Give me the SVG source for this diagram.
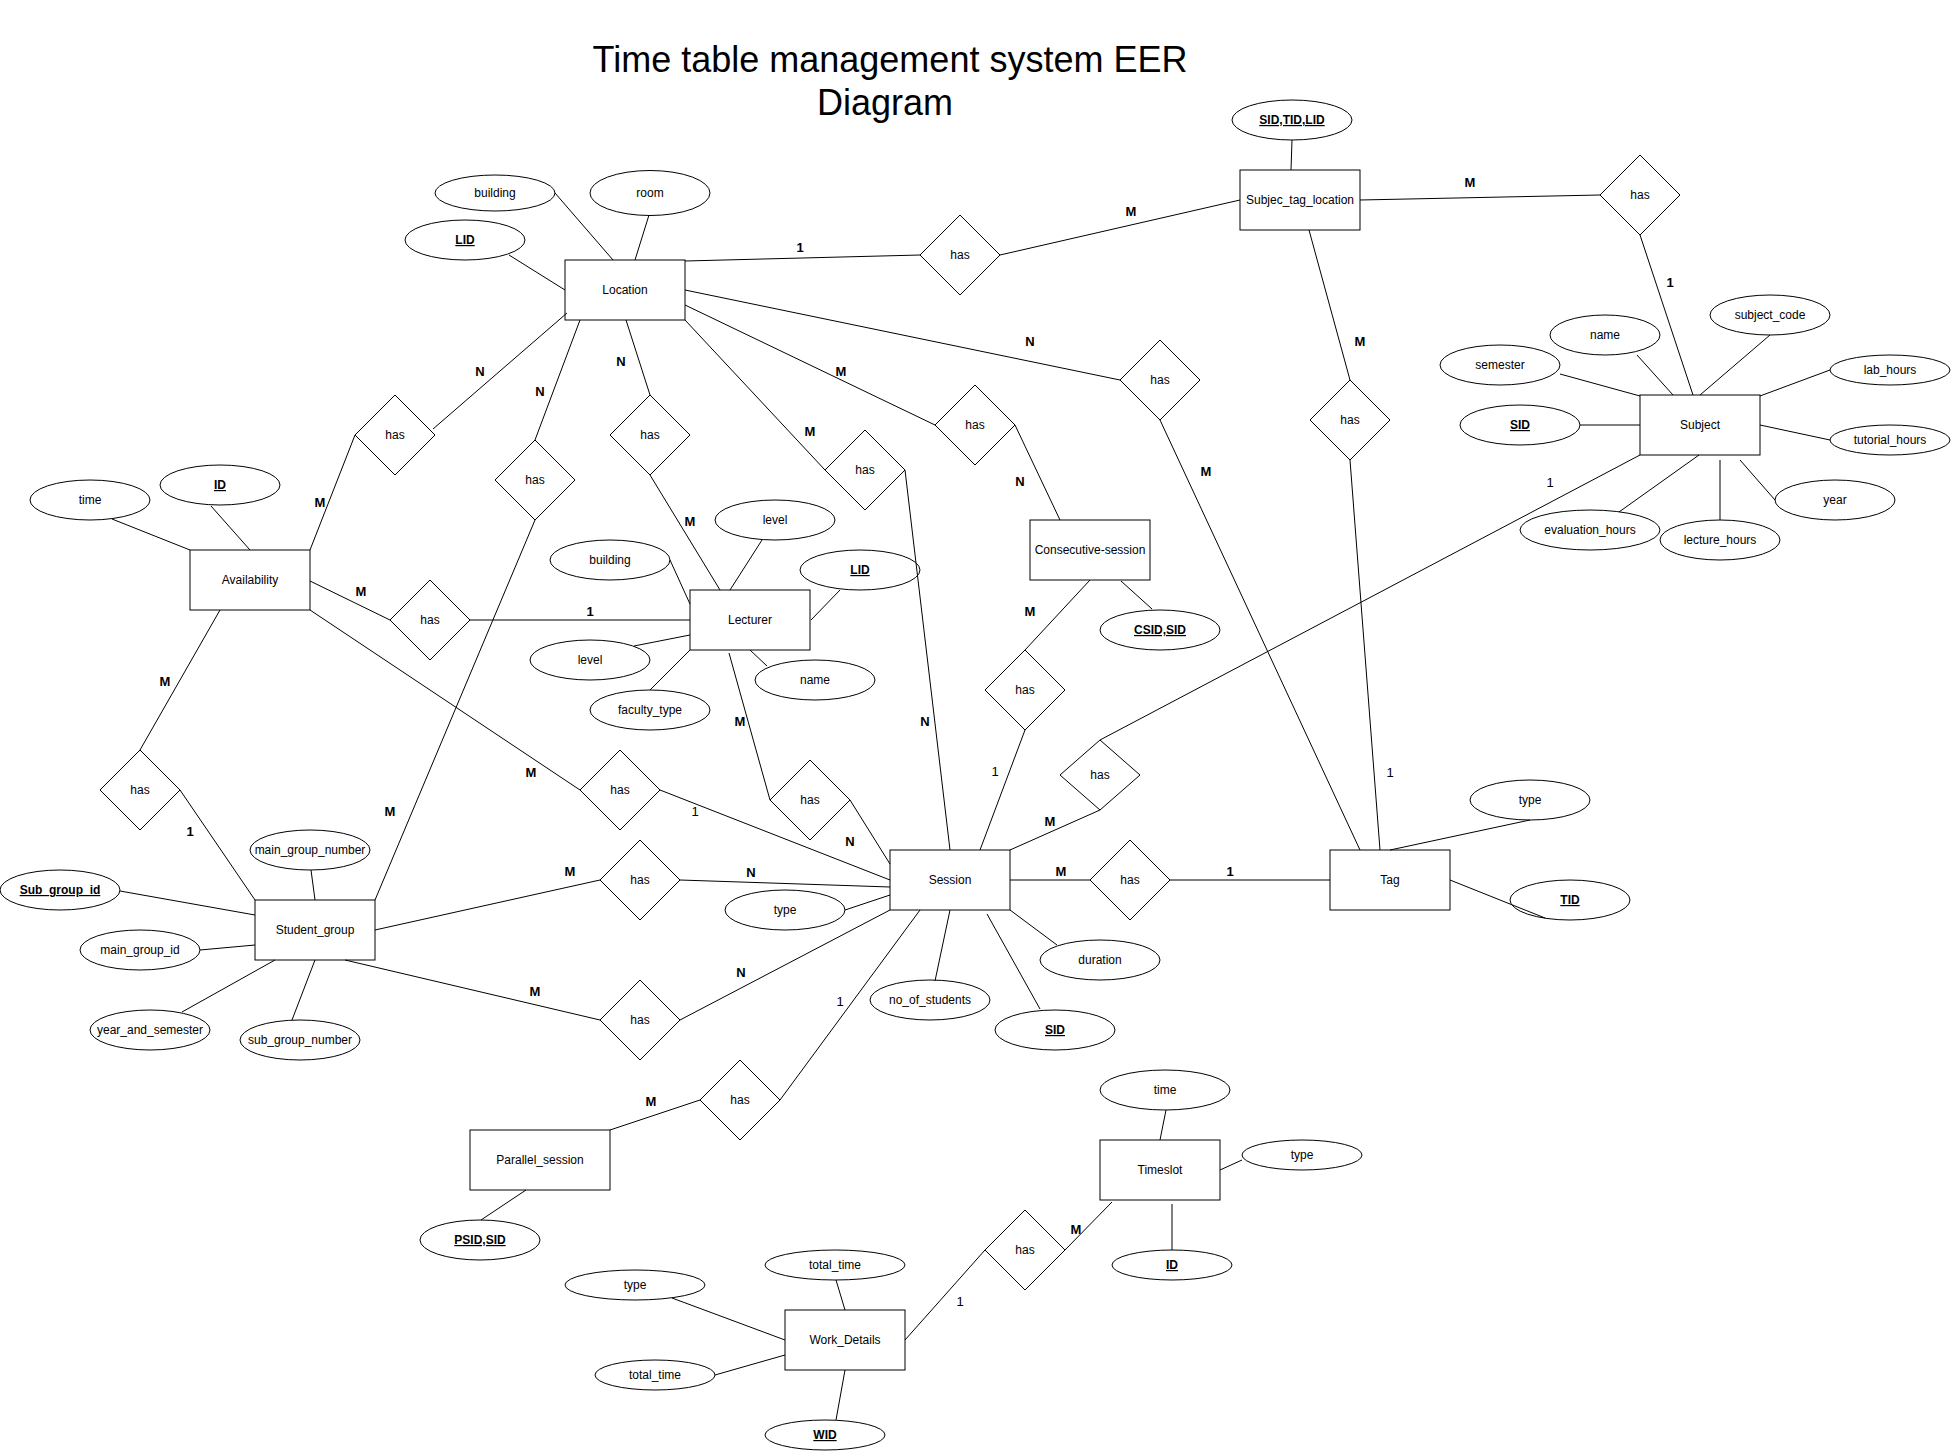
<svg xmlns="http://www.w3.org/2000/svg" width="1951" height="1451" viewBox="0 0 1951 1451">
<style>
.s{fill:#fff;stroke:#000;stroke-width:1}
text{font-family:"Liberation Sans",Arial,Helvetica,sans-serif;fill:#000}
.t{font-size:12px;text-anchor:middle}
.k{font-weight:bold;text-decoration:underline}
.c line{stroke:#000;stroke-width:1}
.l{font-size:13px;font-weight:bold;text-anchor:middle}
.r{font-weight:normal}
.title{font-size:36px;text-anchor:middle}
</style>
<rect width="1951" height="1451" fill="#fff"/>
<g id="title">
<text class="title" x="890" y="72">Time table management system EER</text>
<text class="title" x="885" y="115">Diagram</text>
</g>

<g id="entity-location"><rect class="s" x="565" y="260" width="120" height="60"/><text class="t" x="625" y="294">Location</text></g>
<g id="entity-subjec-tag-location"><rect class="s" x="1240" y="170" width="120" height="60"/><text class="t" x="1300" y="204">Subjec_tag_location</text></g>
<g id="entity-subject"><rect class="s" x="1640" y="395" width="120" height="60"/><text class="t" x="1700" y="429">Subject</text></g>
<g id="entity-availability"><rect class="s" x="190" y="550" width="120" height="60"/><text class="t" x="250" y="584">Availability</text></g>
<g id="entity-student-group"><rect class="s" x="255" y="900" width="120" height="60"/><text class="t" x="315" y="934">Student_group</text></g>
<g id="entity-lecturer"><rect class="s" x="690" y="590" width="120" height="60"/><text class="t" x="750" y="624">Lecturer</text></g>
<g id="entity-consecutive-session"><rect class="s" x="1030" y="520" width="120" height="60"/><text class="t" x="1090" y="554">Consecutive-session</text></g>
<g id="entity-session"><rect class="s" x="890" y="850" width="120" height="60"/><text class="t" x="950" y="884">Session</text></g>
<g id="entity-tag"><rect class="s" x="1330" y="850" width="120" height="60"/><text class="t" x="1390" y="884">Tag</text></g>
<g id="entity-parallel-session"><rect class="s" x="470" y="1130" width="140" height="60"/><text class="t" x="540" y="1164">Parallel_session</text></g>
<g id="entity-work-details"><rect class="s" x="785" y="1310" width="120" height="60"/><text class="t" x="845" y="1344">Work_Details</text></g>
<g id="entity-timeslot"><rect class="s" x="1100" y="1140" width="120" height="60"/><text class="t" x="1160" y="1174">Timeslot</text></g>

<g id="rel-location-stl"><polygon class="s" points="960,215 1000,255 960,295 920,255"/><text class="t" x="960" y="259">has</text></g>
<g id="rel-stl-subject"><polygon class="s" points="1640,155 1680,195 1640,235 1600,195"/><text class="t" x="1640" y="199">has</text></g>
<g id="rel-stl-tag"><polygon class="s" points="1350,380 1390,420 1350,460 1310,420"/><text class="t" x="1350" y="424">has</text></g>
<g id="rel-location-tag"><polygon class="s" points="1160,340 1200,380 1160,420 1120,380"/><text class="t" x="1160" y="384">has</text></g>
<g id="rel-location-consecutive"><polygon class="s" points="975,385 1015,425 975,465 935,425"/><text class="t" x="975" y="429">has</text></g>
<g id="rel-location-session"><polygon class="s" points="865,430 905,470 865,510 825,470"/><text class="t" x="865" y="474">has</text></g>
<g id="rel-location-lecturer"><polygon class="s" points="650,395 690,435 650,475 610,435"/><text class="t" x="650" y="439">has</text></g>
<g id="rel-location-student-group"><polygon class="s" points="535,440 575,480 535,520 495,480"/><text class="t" x="535" y="484">has</text></g>
<g id="rel-location-availability"><polygon class="s" points="395,395 435,435 395,475 355,435"/><text class="t" x="395" y="439">has</text></g>
<g id="rel-availability-lecturer"><polygon class="s" points="430,580 470,620 430,660 390,620"/><text class="t" x="430" y="624">has</text></g>
<g id="rel-availability-student-group"><polygon class="s" points="140,750 180,790 140,830 100,790"/><text class="t" x="140" y="794">has</text></g>
<g id="rel-availability-session"><polygon class="s" points="620,750 660,790 620,830 580,790"/><text class="t" x="620" y="794">has</text></g>
<g id="rel-student-group-session-1"><polygon class="s" points="640,840 680,880 640,920 600,880"/><text class="t" x="640" y="884">has</text></g>
<g id="rel-student-group-session-2"><polygon class="s" points="640,980 680,1020 640,1060 600,1020"/><text class="t" x="640" y="1024">has</text></g>
<g id="rel-session-parallel"><polygon class="s" points="740,1060 780,1100 740,1140 700,1100"/><text class="t" x="740" y="1104">has</text></g>
<g id="rel-work-timeslot"><polygon class="s" points="1025,1210 1065,1250 1025,1290 985,1250"/><text class="t" x="1025" y="1254">has</text></g>
<g id="rel-lecturer-session"><polygon class="s" points="810,760 850,800 810,840 770,800"/><text class="t" x="810" y="804">has</text></g>
<g id="rel-session-consecutive"><polygon class="s" points="1025,650 1065,690 1025,730 985,690"/><text class="t" x="1025" y="694">has</text></g>
<g id="rel-session-subject"><polygon class="s" points="1100,740 1140,775 1100,810 1060,775"/><text class="t" x="1100" y="779">has</text></g>
<g id="rel-session-tag"><polygon class="s" points="1130,840 1170,880 1130,920 1090,880"/><text class="t" x="1130" y="884">has</text></g>

<g id="attr-location-building"><ellipse class="s" cx="495" cy="193" rx="60" ry="18"/><text class="t" x="495" y="197">building</text></g>
<g id="attr-location-room"><ellipse class="s" cx="650" cy="193" rx="60" ry="22.5"/><text class="t" x="650" y="197">room</text></g>
<g id="attr-location-lid"><ellipse class="s" cx="465" cy="240" rx="60" ry="20"/><text class="t k" x="465" y="244">LID</text></g>
<g id="attr-stl-key"><ellipse class="s" cx="1292" cy="120" rx="60" ry="20"/><text class="t k" x="1292" y="124">SID,TID,LID</text></g>
<g id="attr-subject-code"><ellipse class="s" cx="1770" cy="315" rx="60" ry="20"/><text class="t" x="1770" y="319">subject_code</text></g>
<g id="attr-subject-name"><ellipse class="s" cx="1605" cy="335" rx="55" ry="20"/><text class="t" x="1605" y="339">name</text></g>
<g id="attr-subject-semester"><ellipse class="s" cx="1500" cy="365" rx="60" ry="20"/><text class="t" x="1500" y="369">semester</text></g>
<g id="attr-subject-lab-hours"><ellipse class="s" cx="1890" cy="370" rx="60" ry="15"/><text class="t" x="1890" y="374">lab_hours</text></g>
<g id="attr-subject-sid"><ellipse class="s" cx="1520" cy="425" rx="60" ry="20"/><text class="t k" x="1520" y="429">SID</text></g>
<g id="attr-subject-tutorial-hours"><ellipse class="s" cx="1890" cy="440" rx="60" ry="15"/><text class="t" x="1890" y="444">tutorial_hours</text></g>
<g id="attr-subject-year"><ellipse class="s" cx="1835" cy="500" rx="60" ry="20"/><text class="t" x="1835" y="504">year</text></g>
<g id="attr-subject-evaluation-hours"><ellipse class="s" cx="1590" cy="530" rx="70" ry="20"/><text class="t" x="1590" y="534">evaluation_hours</text></g>
<g id="attr-subject-lecture-hours"><ellipse class="s" cx="1720" cy="540" rx="60" ry="20"/><text class="t" x="1720" y="544">lecture_hours</text></g>
<g id="attr-availability-time"><ellipse class="s" cx="90" cy="500" rx="60" ry="20"/><text class="t" x="90" y="504">time</text></g>
<g id="attr-availability-id"><ellipse class="s" cx="220" cy="485" rx="60" ry="20"/><text class="t k" x="220" y="489">ID</text></g>
<g id="attr-sg-main-group-number"><ellipse class="s" cx="310" cy="850" rx="60" ry="20"/><text class="t" x="310" y="854">main_group_number</text></g>
<g id="attr-sg-sub-group-id"><ellipse class="s" cx="60" cy="890" rx="60" ry="20"/><text class="t k" x="60" y="894">Sub_group_id</text></g>
<g id="attr-sg-main-group-id"><ellipse class="s" cx="140" cy="950" rx="60" ry="20"/><text class="t" x="140" y="954">main_group_id</text></g>
<g id="attr-sg-year-and-semester"><ellipse class="s" cx="150" cy="1030" rx="60" ry="20"/><text class="t" x="150" y="1034">year_and_semester</text></g>
<g id="attr-sg-sub-group-number"><ellipse class="s" cx="300" cy="1040" rx="60" ry="20"/><text class="t" x="300" y="1044">sub_group_number</text></g>
<g id="attr-lecturer-level-1"><ellipse class="s" cx="775" cy="520" rx="60" ry="20"/><text class="t" x="775" y="524">level</text></g>
<g id="attr-lecturer-building"><ellipse class="s" cx="610" cy="560" rx="60" ry="20"/><text class="t" x="610" y="564">building</text></g>
<g id="attr-lecturer-lid"><ellipse class="s" cx="860" cy="570" rx="60" ry="20"/><text class="t k" x="860" y="574">LID</text></g>
<g id="attr-lecturer-level-2"><ellipse class="s" cx="590" cy="660" rx="60" ry="20"/><text class="t" x="590" y="664">level</text></g>
<g id="attr-lecturer-faculty-type"><ellipse class="s" cx="650" cy="710" rx="60" ry="20"/><text class="t" x="650" y="714">faculty_type</text></g>
<g id="attr-lecturer-name"><ellipse class="s" cx="815" cy="680" rx="60" ry="20"/><text class="t" x="815" y="684">name</text></g>
<g id="attr-consecutive-key"><ellipse class="s" cx="1160" cy="630" rx="60" ry="20"/><text class="t k" x="1160" y="634">CSID,SID</text></g>
<g id="attr-session-type"><ellipse class="s" cx="785" cy="910" rx="60" ry="20"/><text class="t" x="785" y="914">type</text></g>
<g id="attr-session-duration"><ellipse class="s" cx="1100" cy="960" rx="60" ry="20"/><text class="t" x="1100" y="964">duration</text></g>
<g id="attr-session-no-of-students"><ellipse class="s" cx="930" cy="1000" rx="60" ry="20"/><text class="t" x="930" y="1004">no_of_students</text></g>
<g id="attr-session-sid"><ellipse class="s" cx="1055" cy="1030" rx="60" ry="20"/><text class="t k" x="1055" y="1034">SID</text></g>
<g id="attr-parallel-key"><ellipse class="s" cx="480" cy="1240" rx="60" ry="20"/><text class="t k" x="480" y="1244">PSID,SID</text></g>
<g id="attr-tag-type"><ellipse class="s" cx="1530" cy="800" rx="60" ry="20"/><text class="t" x="1530" y="804">type</text></g>
<g id="attr-tag-tid"><ellipse class="s" cx="1570" cy="900" rx="60" ry="20"/><text class="t k" x="1570" y="904">TID</text></g>
<g id="attr-timeslot-time"><ellipse class="s" cx="1165" cy="1090" rx="65" ry="20"/><text class="t" x="1165" y="1094">time</text></g>
<g id="attr-timeslot-type"><ellipse class="s" cx="1302" cy="1155" rx="60" ry="15"/><text class="t" x="1302" y="1159">type</text></g>
<g id="attr-timeslot-id"><ellipse class="s" cx="1172" cy="1265" rx="60" ry="15"/><text class="t k" x="1172" y="1269">ID</text></g>
<g id="attr-work-total-time-1"><ellipse class="s" cx="835" cy="1265" rx="70" ry="15"/><text class="t" x="835" y="1269">total_time</text></g>
<g id="attr-work-type"><ellipse class="s" cx="635" cy="1285" rx="70" ry="15"/><text class="t" x="635" y="1289">type</text></g>
<g id="attr-work-total-time-2"><ellipse class="s" cx="655" cy="1375" rx="60" ry="15"/><text class="t" x="655" y="1379">total_time</text></g>
<g id="attr-work-wid"><ellipse class="s" cx="825" cy="1435" rx="60" ry="15"/><text class="t k" x="825" y="1439">WID</text></g>

<g id="connectors" class="c">
<line x1="555" y1="193" x2="613" y2="260"/>
<line x1="649" y1="215" x2="635" y2="260"/>
<line x1="509" y1="255" x2="565" y2="290"/>
<line x1="685" y1="261" x2="920" y2="255"/>
<line x1="1000" y1="255" x2="1240" y2="200"/>
<line x1="1292" y1="140" x2="1291" y2="170"/>
<line x1="1360" y1="200" x2="1600" y2="195"/>
<line x1="1640" y1="235" x2="1693" y2="395"/>
<line x1="1309" y1="230" x2="1350" y2="380"/>
<line x1="1350" y1="460" x2="1380" y2="850"/>
<line x1="685" y1="290" x2="1120" y2="380"/>
<line x1="1160" y1="420" x2="1360" y2="850"/>
<line x1="685" y1="305" x2="935" y2="425"/>
<line x1="1015" y1="425" x2="1060" y2="520"/>
<line x1="685" y1="320" x2="825" y2="470"/>
<line x1="905" y1="470" x2="950" y2="850"/>
<line x1="626" y1="320" x2="650" y2="395"/>
<line x1="650" y1="475" x2="720" y2="590"/>
<line x1="580" y1="320" x2="535" y2="440"/>
<line x1="535" y1="520" x2="375" y2="900"/>
<line x1="567" y1="313" x2="433" y2="429"/>
<line x1="355" y1="435" x2="310" y2="550"/>
<line x1="1700" y1="395" x2="1770" y2="335"/>
<line x1="1673" y1="395" x2="1637" y2="355"/>
<line x1="1640" y1="396" x2="1560" y2="374"/>
<line x1="1760" y1="396" x2="1830" y2="370"/>
<line x1="1640" y1="425" x2="1580" y2="425"/>
<line x1="1760" y1="425" x2="1830" y2="440"/>
<line x1="1699" y1="455" x2="1619" y2="512"/>
<line x1="1720" y1="460" x2="1720" y2="520"/>
<line x1="1740" y1="460" x2="1775" y2="500"/>
<line x1="1640" y1="455" x2="1100" y2="740"/>
<line x1="112" y1="519" x2="190" y2="550"/>
<line x1="211" y1="506" x2="250" y2="550"/>
<line x1="310" y1="581" x2="390" y2="620"/>
<line x1="470" y1="620" x2="690" y2="620"/>
<line x1="220" y1="610" x2="140" y2="750"/>
<line x1="180" y1="790" x2="255" y2="900"/>
<line x1="310" y1="610" x2="580" y2="790"/>
<line x1="660" y1="790" x2="890" y2="880"/>
<line x1="311" y1="870" x2="315" y2="900"/>
<line x1="120" y1="891" x2="255" y2="915"/>
<line x1="200" y1="950" x2="255" y2="945"/>
<line x1="182" y1="1012" x2="275" y2="960"/>
<line x1="292" y1="1020" x2="315" y2="960"/>
<line x1="375" y1="930" x2="600" y2="880"/>
<line x1="680" y1="880" x2="890" y2="887"/>
<line x1="345" y1="960" x2="600" y2="1020"/>
<line x1="680" y1="1020" x2="890" y2="910"/>
<line x1="845" y1="910" x2="890" y2="895"/>
<line x1="1010" y1="910" x2="1057" y2="945"/>
<line x1="950" y1="910" x2="935" y2="981"/>
<line x1="987" y1="914" x2="1040" y2="1009"/>
<line x1="920" y1="910" x2="780" y2="1100"/>
<line x1="700" y1="1100" x2="610" y2="1130"/>
<line x1="526" y1="1190" x2="481" y2="1220"/>
<line x1="980" y1="850" x2="1025" y2="730"/>
<line x1="1025" y1="650" x2="1090" y2="580"/>
<line x1="1121" y1="581" x2="1152" y2="609"/>
<line x1="1010" y1="850" x2="1100" y2="810"/>
<line x1="1010" y1="880" x2="1090" y2="880"/>
<line x1="1170" y1="880" x2="1330" y2="880"/>
<line x1="1390" y1="850" x2="1530" y2="820"/>
<line x1="1450" y1="880" x2="1545" y2="918"/>
<line x1="762" y1="540" x2="730" y2="590"/>
<line x1="670" y1="560" x2="690" y2="604"/>
<line x1="840" y1="590" x2="811" y2="620"/>
<line x1="634" y1="646" x2="690" y2="635"/>
<line x1="650" y1="690" x2="690" y2="650"/>
<line x1="767" y1="666" x2="750" y2="650"/>
<line x1="729" y1="653" x2="770" y2="800"/>
<line x1="850" y1="800" x2="890" y2="864"/>
<line x1="1166" y1="1110" x2="1160" y2="1140"/>
<line x1="1220" y1="1170" x2="1242" y2="1160"/>
<line x1="1172" y1="1204" x2="1172" y2="1250"/>
<line x1="1065" y1="1250" x2="1112" y2="1202"/>
<line x1="905" y1="1340" x2="985" y2="1250"/>
<line x1="836" y1="1280" x2="845" y2="1310"/>
<line x1="672" y1="1298" x2="785" y2="1340"/>
<line x1="715" y1="1375" x2="785" y2="1355"/>
<line x1="845" y1="1370" x2="836" y2="1420"/>
</g>

<g id="cardinalities">
<text class="l" x="1470" y="187">M</text>
<text class="l" x="1670" y="287">1</text>
<text class="l" x="1360" y="346">M</text>
<text class="l r" x="1550" y="487">1</text>
<text class="l r" x="1390" y="777">1</text>
<text class="l" x="800" y="252">1</text>
<text class="l" x="1131" y="216">M</text>
<text class="l" x="1030" y="346">N</text>
<text class="l" x="1206" y="476">M</text>
<text class="l" x="841" y="376">M</text>
<text class="l" x="1020" y="486">N</text>
<text class="l" x="810" y="436">M</text>
<text class="l" x="925" y="726">N</text>
<text class="l" x="621" y="366">N</text>
<text class="l" x="690" y="526">M</text>
<text class="l" x="540" y="396">N</text>
<text class="l" x="390" y="816">M</text>
<text class="l" x="480" y="376">N</text>
<text class="l" x="320" y="507">M</text>
<text class="l" x="361" y="596">M</text>
<text class="l" x="590" y="616">1</text>
<text class="l" x="165" y="686">M</text>
<text class="l" x="190" y="836">1</text>
<text class="l" x="531" y="777">M</text>
<text class="l r" x="695" y="816">1</text>
<text class="l" x="570" y="876">M</text>
<text class="l" x="751" y="877">N</text>
<text class="l" x="535" y="996">M</text>
<text class="l" x="741" y="977">N</text>
<text class="l r" x="840" y="1006">1</text>
<text class="l" x="651" y="1106">M</text>
<text class="l r" x="995" y="776">1</text>
<text class="l" x="1030" y="616">M</text>
<text class="l" x="1050" y="826">M</text>
<text class="l" x="1061" y="876">M</text>
<text class="l" x="1230" y="876">1</text>
<text class="l" x="740" y="726">M</text>
<text class="l" x="850" y="846">N</text>
<text class="l" x="1076" y="1234">M</text>
<text class="l r" x="960" y="1306">1</text>
</g>
</svg>
